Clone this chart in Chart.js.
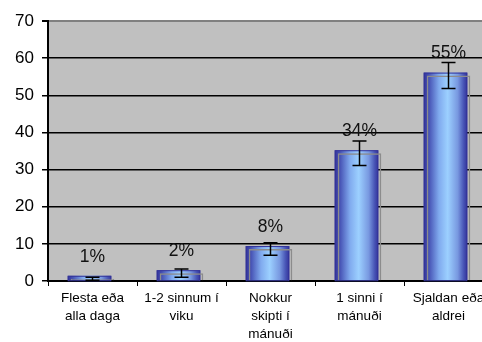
<!DOCTYPE html>
<html>
<head>
<meta charset="utf-8">
<script src="https://cdn.jsdelivr.net/npm/chart.js@4"></script>
<style>
  html, body { margin: 0; padding: 0; background: #fff; }
  #clip { width: 482px; height: 342px; overflow: hidden; position: relative; }
  #wrap { width: 500px; height: 342px; }
</style>
</head>
<body>
<div id="clip"><div id="wrap"><canvas id="chart"></canvas></div></div>
<script>
const categories = [
  ["Flesta eða", "alla daga"],
  ["1-2 sinnum í", "viku"],
  ["Nokkur", "skipti í", "mánuði"],
  ["1 sinni í", "mánuði"],
  ["Sjaldan eða", "aldrei"],
];
const values = [0.6, 2.1, 8.6, 34.4, 55.3];
const errors = [0.4, 1.1, 1.7, 3.3, 3.5];
const valueLabels = ["1%", "2%", "8%", "34%", "55%"];
const yTicks = [0, 10, 20, 30, 40, 50, 60, 70];

const FONT = "'Liberation Sans', Arial, sans-serif";

// front face of the pseudo-3D columns, shifted up-left of the real bar
const frontFace = {
  id: "frontFace",
  beforeDatasetsDraw(chart) {
    const ctx = chart.ctx;
    chart.getDatasetMeta(0).data.forEach((bar) => {
      const w = bar.width;
      const x0 = bar.x - w / 2 - 3, x1 = bar.x + w / 2 - 3;
      const top = bar.y - 3, bottom = bar.base;
      const g = ctx.createLinearGradient(x0, 0, x1, 0);
      g.addColorStop(0, "#333399");
      g.addColorStop(0.12, "#4652b4");
      g.addColorStop(0.35, "#80aaee");
      g.addColorStop(0.55, "#9cd0ff");
      g.addColorStop(0.78, "#7898e0");
      g.addColorStop(0.92, "#4652b4");
      g.addColorStop(1, "#333399");
      ctx.save();
      ctx.fillStyle = g;
      ctx.fillRect(x0, top, x1 - x0, bottom - top);
      ctx.strokeStyle = "#333399";
      ctx.lineWidth = 1;
      ctx.strokeRect(x0 + 0.5, top + 0.5, x1 - x0 - 1, bottom - top);
      ctx.restore();
    });
  },
  afterDatasetsDraw(chart) {
    const ctx = chart.ctx;
    const y = chart.scales.y;
    chart.getDatasetMeta(0).data.forEach((bar, i) => {
      const hi = y.getPixelForValue(values[i] + errors[i]);
      const lo = y.getPixelForValue(Math.max(0, values[i] - errors[i]));
      ctx.save();
      ctx.strokeStyle = "#000";
      ctx.lineWidth = 1.5;
      ctx.beginPath();
      ctx.moveTo(bar.x, hi); ctx.lineTo(bar.x, lo);
      ctx.moveTo(bar.x - 7, hi); ctx.lineTo(bar.x + 7, hi);
      ctx.moveTo(bar.x - 7, lo); ctx.lineTo(bar.x + 7, lo);
      ctx.stroke();
      ctx.fillStyle = "#111";
      ctx.font = "17.5px " + FONT;
      ctx.textAlign = "center";
      ctx.textBaseline = "middle";
      ctx.fillText(valueLabels[i], bar.x, bar.y - 22);
      ctx.restore();
    });
  },
};

const plotBg = {
  id: "plotBg",
  beforeDraw(chart) {
    const a = chart.chartArea;
    chart.ctx.save();
    chart.ctx.fillStyle = "#c0c0c0";
    chart.ctx.fillRect(a.left, a.top, a.right - a.left, a.bottom - a.top);
    chart.ctx.restore();
  },
};

new Chart(document.getElementById("chart"), {
  type: "bar",
  data: {
    labels: categories,
    datasets: [{
      data: values,
      backgroundColor: "rgba(0,0,0,0)",
      borderColor: "#8c8c8c",
      borderWidth: 1.5,
      borderSkipped: "bottom",
      barPercentage: 0.49,
      categoryPercentage: 1,
    }],
  },
  options: {
    responsive: true, maintainAspectRatio: false, animation: false,
    layout: { padding: { top: 21, right: 7, left: 0, bottom: 0 } },
    plugins: { legend: { display: false }, tooltip: { enabled: false } },
    scales: {
      x: {
        grid: { drawOnChartArea: false, drawTicks: true, tickLength: 5, color: "#000", lineWidth: 1 },
        border: { color: "#000", width: 2 },
        ticks: { color: "#000", font: { family: FONT, size: 13.5, lineHeight: 1.35 }, padding: 3, maxRotation: 0, autoSkip: false },
        afterFit: (s) => { s.height = 61; },
      },
      y: {
        min: 0, max: 70,
        afterBuildTicks: (s) => { s.ticks = yTicks.map((v) => ({ value: v })); },
        grid: {
          color: (c) => (c.tick && c.tick.value === 70 ? "#808080" : "#000"),
          lineWidth: (c) => (c.tick && c.tick.value === 70 ? 2 : 1.5),
          tickLength: 6,
          tickColor: "#000",
        },
        border: { color: "#000", width: 2 },
        ticks: { color: "#000", font: { family: FONT, size: 17 }, padding: 8 },
        afterFit: (s) => { s.width = 48; },
      },
    },
  },
  plugins: [plotBg, frontFace],
});
</script>
</body>
</html>
